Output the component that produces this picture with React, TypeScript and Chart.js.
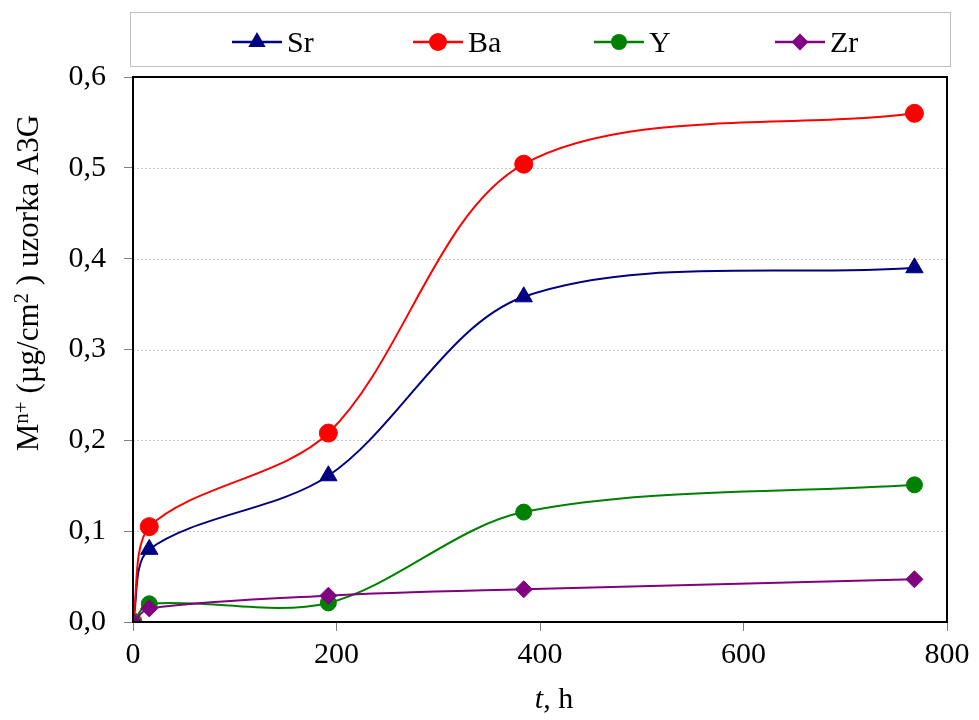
import React, { useEffect, useRef } from "react";
import { Chart, registerables } from "chart.js";

Chart.register(...registerables);

const hours = [0, 16, 192, 384, 768];
const srValues = [0, 0.08, 0.161, 0.358, 0.39];
const baValues = [0, 0.105, 0.208, 0.504, 0.56];
const yValues = [0, 0.02, 0.021, 0.121, 0.151];
const zrValues = [0, 0.015, 0.029, 0.036, 0.047];
const seriesNames = ["Sr", "Ba", "Y", "Zr"];
const seriesColors = ["#000080", "#FF0000", "#008000", "#800080"];
const seriesMarkers = ["triangle", "circle", "circle", "rectRot"];
const markerSizes = [10, 9, 8, 8.5];
// y title pieces: [text, isSuperscript]
const yTitleParts: [string, boolean][] = [
  ["M", false],
  ["n+", true],
  [" (µg/cm", false],
  ["2", true],
  [" ) uzorka A3G", false],
];
const xTitleItalic = "t";
const xTitleRest = ", h";

const FONT = "'Liberation Serif', 'Times New Roman', serif";

function drawMarker(ctx: CanvasRenderingContext2D, style: string, r: number, x: number, y: number) {
  ctx.beginPath();
  if (style === "circle") {
    ctx.arc(x, y, r, 0, Math.PI * 2);
  } else if (style === "triangle") {
    const a = (Math.PI * 2) / 3;
    const rot = -Math.PI / 2;
    ctx.moveTo(x + Math.cos(rot) * r, y + Math.sin(rot) * r);
    ctx.lineTo(x + Math.cos(rot + a) * r, y + Math.sin(rot + a) * r);
    ctx.lineTo(x + Math.cos(rot + 2 * a) * r, y + Math.sin(rot + 2 * a) * r);
    ctx.closePath();
  } else {
    ctx.moveTo(x, y - r);
    ctx.lineTo(x + r, y);
    ctx.lineTo(x, y + r);
    ctx.lineTo(x - r, y);
    ctx.closePath();
  }
  ctx.fill();
}

const decorPlugin = {
  id: "decor",
  beforeDatasetsDraw(chart: any) {
    const { ctx, chartArea, scales } = chart;
    const y = scales.y;
    ctx.save();
    ctx.strokeStyle = "#c8c8c8";
    ctx.lineWidth = 1;
    ctx.setLineDash([2, 2]);
    y.ticks.forEach((t: any) => {
      const py = Math.round(y.getPixelForValue(t.value)) + 0.5;
      ctx.beginPath();
      ctx.moveTo(chartArea.left, py);
      ctx.lineTo(chartArea.right, py);
      ctx.stroke();
    });
    ctx.restore();
  },
  afterDraw(chart: any) {
    const { ctx, chartArea } = chart;
    ctx.save();
    // plot border
    ctx.strokeStyle = "#000";
    ctx.lineWidth = 2;
    ctx.setLineDash([]);
    ctx.strokeRect(chartArea.left, chartArea.top, chartArea.right - chartArea.left, chartArea.bottom - chartArea.top);

    // legend box
    ctx.strokeStyle = "#c0c0c0";
    ctx.lineWidth = 1;
    ctx.strokeRect(130.5, 12.5, 820, 54);
    const ly = 42;
    chart.data.datasets.forEach((ds: any, i: number) => {
      const mx = 257 + i * 181;
      ctx.strokeStyle = ds.borderColor;
      ctx.lineWidth = 2.5;
      ctx.beginPath();
      ctx.moveTo(mx - 25, ly);
      ctx.lineTo(mx + 25, ly);
      ctx.stroke();
      ctx.fillStyle = ds.pointBackgroundColor;
      drawMarker(ctx, ds.pointStyle, ds.pointRadius, mx, ly);
      ctx.fillStyle = "#000";
      ctx.font = `30px ${FONT}`;
      ctx.textAlign = "left";
      ctx.textBaseline = "middle";
      ctx.fillText(ds.label, mx + 30, ly + 2);
    });

    // y title (rotated, with superscripts)
    const baseSize = 31;
    const supSize = 21;
    let total = 0;
    yTitleParts.forEach(([txt, sup]) => {
      ctx.font = `${sup ? supSize : baseSize}px ${FONT}`;
      total += ctx.measureText(txt).width;
    });
    ctx.save();
    ctx.translate(38, 283);
    ctx.rotate(-Math.PI / 2);
    ctx.fillStyle = "#000";
    ctx.textAlign = "left";
    ctx.textBaseline = "alphabetic";
    let px = -total / 2;
    yTitleParts.forEach(([txt, sup]) => {
      ctx.font = `${sup ? supSize : baseSize}px ${FONT}`;
      ctx.fillText(txt, px, sup ? -10 : 0);
      px += ctx.measureText(txt).width;
    });
    ctx.restore();

    // x title
    ctx.font = `italic 30px ${FONT}`;
    const w1 = ctx.measureText(xTitleItalic).width;
    ctx.font = `30px ${FONT}`;
    const w2 = ctx.measureText(xTitleRest).width;
    const cx = (chartArea.left + chartArea.right) / 2 + 14;
    const sx = cx - (w1 + w2) / 2;
    ctx.fillStyle = "#000";
    ctx.textAlign = "left";
    ctx.textBaseline = "middle";
    ctx.font = `italic 30px ${FONT}`;
    ctx.fillText(xTitleItalic, sx, 700);
    ctx.font = `30px ${FONT}`;
    ctx.fillText(xTitleRest, sx + w1, 700);
    ctx.restore();
  },
};

export default function App() {
  const ref = useRef<HTMLCanvasElement>(null);
  useEffect(() => {
    if (!ref.current) return;
    const seriesData = [srValues, baValues, yValues, zrValues];
    const datasets = seriesData.map((vals, i) => ({
      label: seriesNames[i],
      data: hours.map((h, j) => ({ x: h, y: vals[j] })),
      borderColor: seriesColors[i],
      backgroundColor: seriesColors[i],
      pointBackgroundColor: seriesColors[i],
      pointBorderColor: seriesColors[i],
      pointStyle: seriesMarkers[i],
      pointRadius: markerSizes[i],
      pointBorderWidth: 1,
      borderWidth: 2,
      tension: 0.32,
      fill: false,
      order: 3 - i,
    }));
    const chart = new Chart(ref.current, {
      type: "line",
      data: { datasets },
      plugins: [decorPlugin],
      options: {
        animation: false,
        responsive: true,
        maintainAspectRatio: false,
        layout: { padding: { left: 0, top: 77, right: 32, bottom: 0 } },
        plugins: { legend: { display: false }, tooltip: { enabled: false } },
        scales: {
          x: {
            type: "linear",
            min: 0,
            max: 800,
            ticks: {
              stepSize: 200,
              font: { family: FONT, size: 30 },
              color: "#000",
              padding: 6,
              maxRotation: 0,
            },
            grid: { drawOnChartArea: false, drawTicks: true, tickLength: 9, tickColor: "#808080", color: "#808080" },
            border: { display: false },
            afterFit: (s: any) => {
              s.height = 98;
            },
          },
          y: {
            min: 0,
            max: 0.6,
            ticks: {
              stepSize: 0.1,
              font: { family: FONT, size: 30 },
              color: "#000",
              padding: 18,
              callback: (v: any) => Number(v).toFixed(1).replace(".", ","),
            },
            grid: { drawOnChartArea: false, drawTicks: true, tickLength: 9, tickColor: "#808080", color: "#808080" },
            border: { display: false },
            afterFit: (s: any) => {
              s.width = 133;
            },
          },
        },
      } as any,
    });
    return () => chart.destroy();
  }, []);
  return (
    <div style={{ position: "fixed", left: 0, top: 0, width: 979, height: 720, background: "#fff" }}>
      <canvas ref={ref} />
    </div>
  );
}
